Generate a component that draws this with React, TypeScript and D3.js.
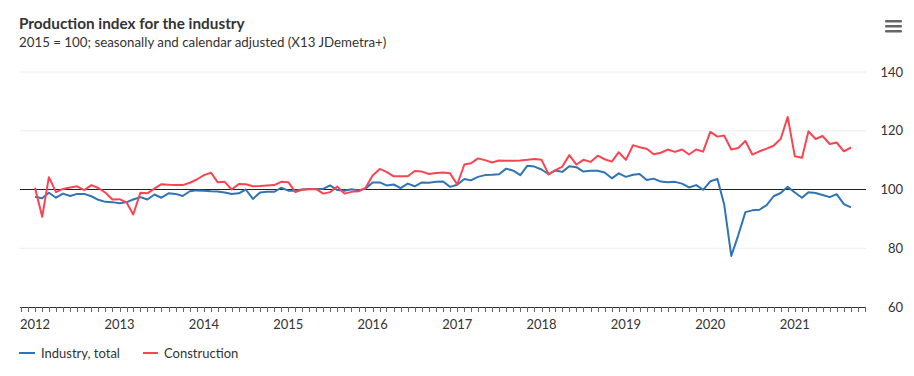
import React from "react";
import * as d3 from "d3";

const startYear = 2012;
const years = ["2012", "2013", "2014", "2015", "2016", "2017", "2018", "2019", "2020", "2021"];
const yTicks = [60, 80, 100, 120, 140];

const industry = [
  97.5, 97.0, 98.9, 97.2, 98.6, 97.8, 98.5, 98.5, 97.7, 96.5, 95.8, 95.7,
  95.3, 95.7, 96.6, 97.4, 96.6, 98.3, 97.2, 98.7, 98.5, 97.8, 99.4, 99.7,
  99.6, 99.4, 99.3, 99.0, 98.5, 98.7, 100.0, 96.8, 99.0, 99.2, 99.2, 100.6,
  99.6, 99.6, 100.0, 100.2, 100.2, 100.2, 101.4, 99.8, 99.6, 100.1, 99.7, 100.3,
  102.4, 102.4, 101.4, 101.7, 100.5, 102.0, 101.1, 102.4, 102.3, 102.6, 102.7, 100.9,
  101.6, 103.6, 103.1, 104.3, 104.9, 105.0, 105.2, 107.1, 106.4, 104.9, 108.1, 107.8,
  106.8, 105.2, 106.5, 106.0, 107.9, 107.6, 106.1, 106.4, 106.4, 105.8, 103.8, 105.5,
  104.3, 105.0, 105.3, 103.2, 103.7, 102.7, 102.5, 102.6, 102.0, 100.7, 101.5, 99.9,
  102.8, 103.6, 95.0, 77.4, 84.4, 92.3, 92.9, 93.1, 94.7, 97.7, 98.8, 100.9,
  99.0, 97.2, 99.1, 98.8, 98.1, 97.4, 98.4, 95.0, 93.9,
];

const construction = [
  100.6, 90.7, 104.2, 99.1, 100.2, 100.7, 101.1, 99.8, 101.5, 100.5, 98.9, 96.6,
  96.7, 95.5, 91.5, 98.9, 98.7, 100.3, 101.8, 101.6, 101.5, 101.5, 102.3, 103.4,
  104.9, 105.7, 102.5, 102.6, 100.0, 101.9, 101.8, 101.1, 101.2, 101.4, 101.5, 102.6,
  102.5, 99.1, 99.9, 100.1, 100.2, 98.6, 99.1, 101.0, 98.6, 99.2, 99.4, 100.5,
  104.8, 107.0, 106.0, 104.5, 104.5, 104.5, 106.3, 106.1, 105.3, 105.6, 105.8, 105.5,
  101.7, 108.5, 108.9, 110.6, 110.0, 109.2, 109.9, 109.8, 109.8, 109.9, 110.1, 110.4,
  110.1, 105.1, 106.5, 107.8, 111.7, 108.5, 110.1, 109.4, 111.5, 110.3, 109.5, 112.7,
  110.1, 115.1, 114.4, 113.9, 112.0, 112.5, 113.6, 112.8, 113.6, 111.9, 113.6, 112.9,
  119.6, 118.0, 118.4, 113.6, 114.1, 116.5, 111.9, 113.0, 113.9, 114.9, 117.3, 124.7,
  111.3, 110.8, 119.8, 117.2, 118.2, 115.5, 116.0, 113.0, 114.3,
];

const seriesNames = ["Industry, total", "Construction"];
const colors = ["#2f74b5", "#fa4452"];

const FONT = "Lato, 'Source Sans Pro', 'Noto Sans', sans-serif";

export default function App() {
  const W = 914;
  const H = 376;
  const left = 20;
  const right = 866;
  const top = 72;
  const bottom = 307;

  const dateOf = (i: number) => new Date(startYear, i, 1);
  const n = industry.length;
  const x = d3.scaleTime().domain([dateOf(0), dateOf(n - 1)]).range([35, 851]);
  const y = d3.scaleLinear().domain([60, 140]).range([bottom, top]);

  const line = d3
    .line<number>()
    .x((_, i) => x(dateOf(i)))
    .y((d) => y(d));

  const monthTicks = d3.range(-3, n + 3).map((i) => dateOf(i)).filter((d) => {
    const px = x(d);
    return px >= left - 0.5 && px <= right + 0.5;
  });

  return (
    <svg
      width={W}
      height={H}
      style={{ position: "absolute", left: 0, top: 0, background: "#fff", fontFamily: FONT }}
    >
      <text x={19} y={29} fontSize={15.3} fontWeight={700} fill="#333">
        Production index for the industry
      </text>
      <text x={19} y={47} fontSize={13.3} fill="#333">
        2015 = 100; seasonally and calendar adjusted (X13 JDemetra+)
      </text>

      {/* menu icon */}
      {[0, 5, 10].map((dy) => (
        <rect key={dy} x={885} y={20 + dy} width={17} height={2.5} rx={1} fill="#666" />
      ))}

      {/* gridlines */}
      {yTicks.filter((t) => t !== 60 && t !== 100).map((t) => (
        <line key={t} x1={left} x2={right} y1={y(t)} y2={y(t)} stroke="#ececec" strokeWidth={1} />
      ))}
      {yTicks.map((t) => (
        <text key={t} x={903} y={y(t) + 4.5} fontSize={13} fill="#333" textAnchor="end">
          {t}
        </text>
      ))}

      {/* x axis */}
      <line x1={left} x2={right} y1={bottom + 0.5} y2={bottom + 0.5} stroke="#333" strokeWidth={1} />
      {monthTicks.map((d, i) => (
        <line
          key={i}
          x1={Math.round(x(d)) + 0.5}
          x2={Math.round(x(d)) + 0.5}
          y1={bottom}
          y2={bottom + 5}
          stroke="#666"
          strokeWidth={1}
        />
      ))}
      {years.map((yr) => (
        <text key={yr} x={x(new Date(+yr, 0, 1))} y={329} fontSize={13} fill="#333" textAnchor="middle">
          {yr}
        </text>
      ))}

      {/* reference line at 100 */}
      <line x1={left} x2={right} y1={y(100)} y2={y(100)} stroke="#222" strokeWidth={1.2} />

      <path d={line(industry) || ""} fill="none" stroke={colors[0]} strokeWidth={2} strokeLinejoin="round" />
      <path d={line(construction) || ""} fill="none" stroke={colors[1]} strokeWidth={2} strokeLinejoin="round" />

      {/* legend */}
      <line x1={19} x2={35} y1={353} y2={353} stroke={colors[0]} strokeWidth={2} />
      <text x={41} y={357.5} fontSize={13} fill="#333">{seriesNames[0]}</text>
      <line x1={143} x2={158} y1={353} y2={353} stroke={colors[1]} strokeWidth={2} />
      <text x={164} y={357.5} fontSize={13} fill="#333">{seriesNames[1]}</text>
    </svg>
  );
}
